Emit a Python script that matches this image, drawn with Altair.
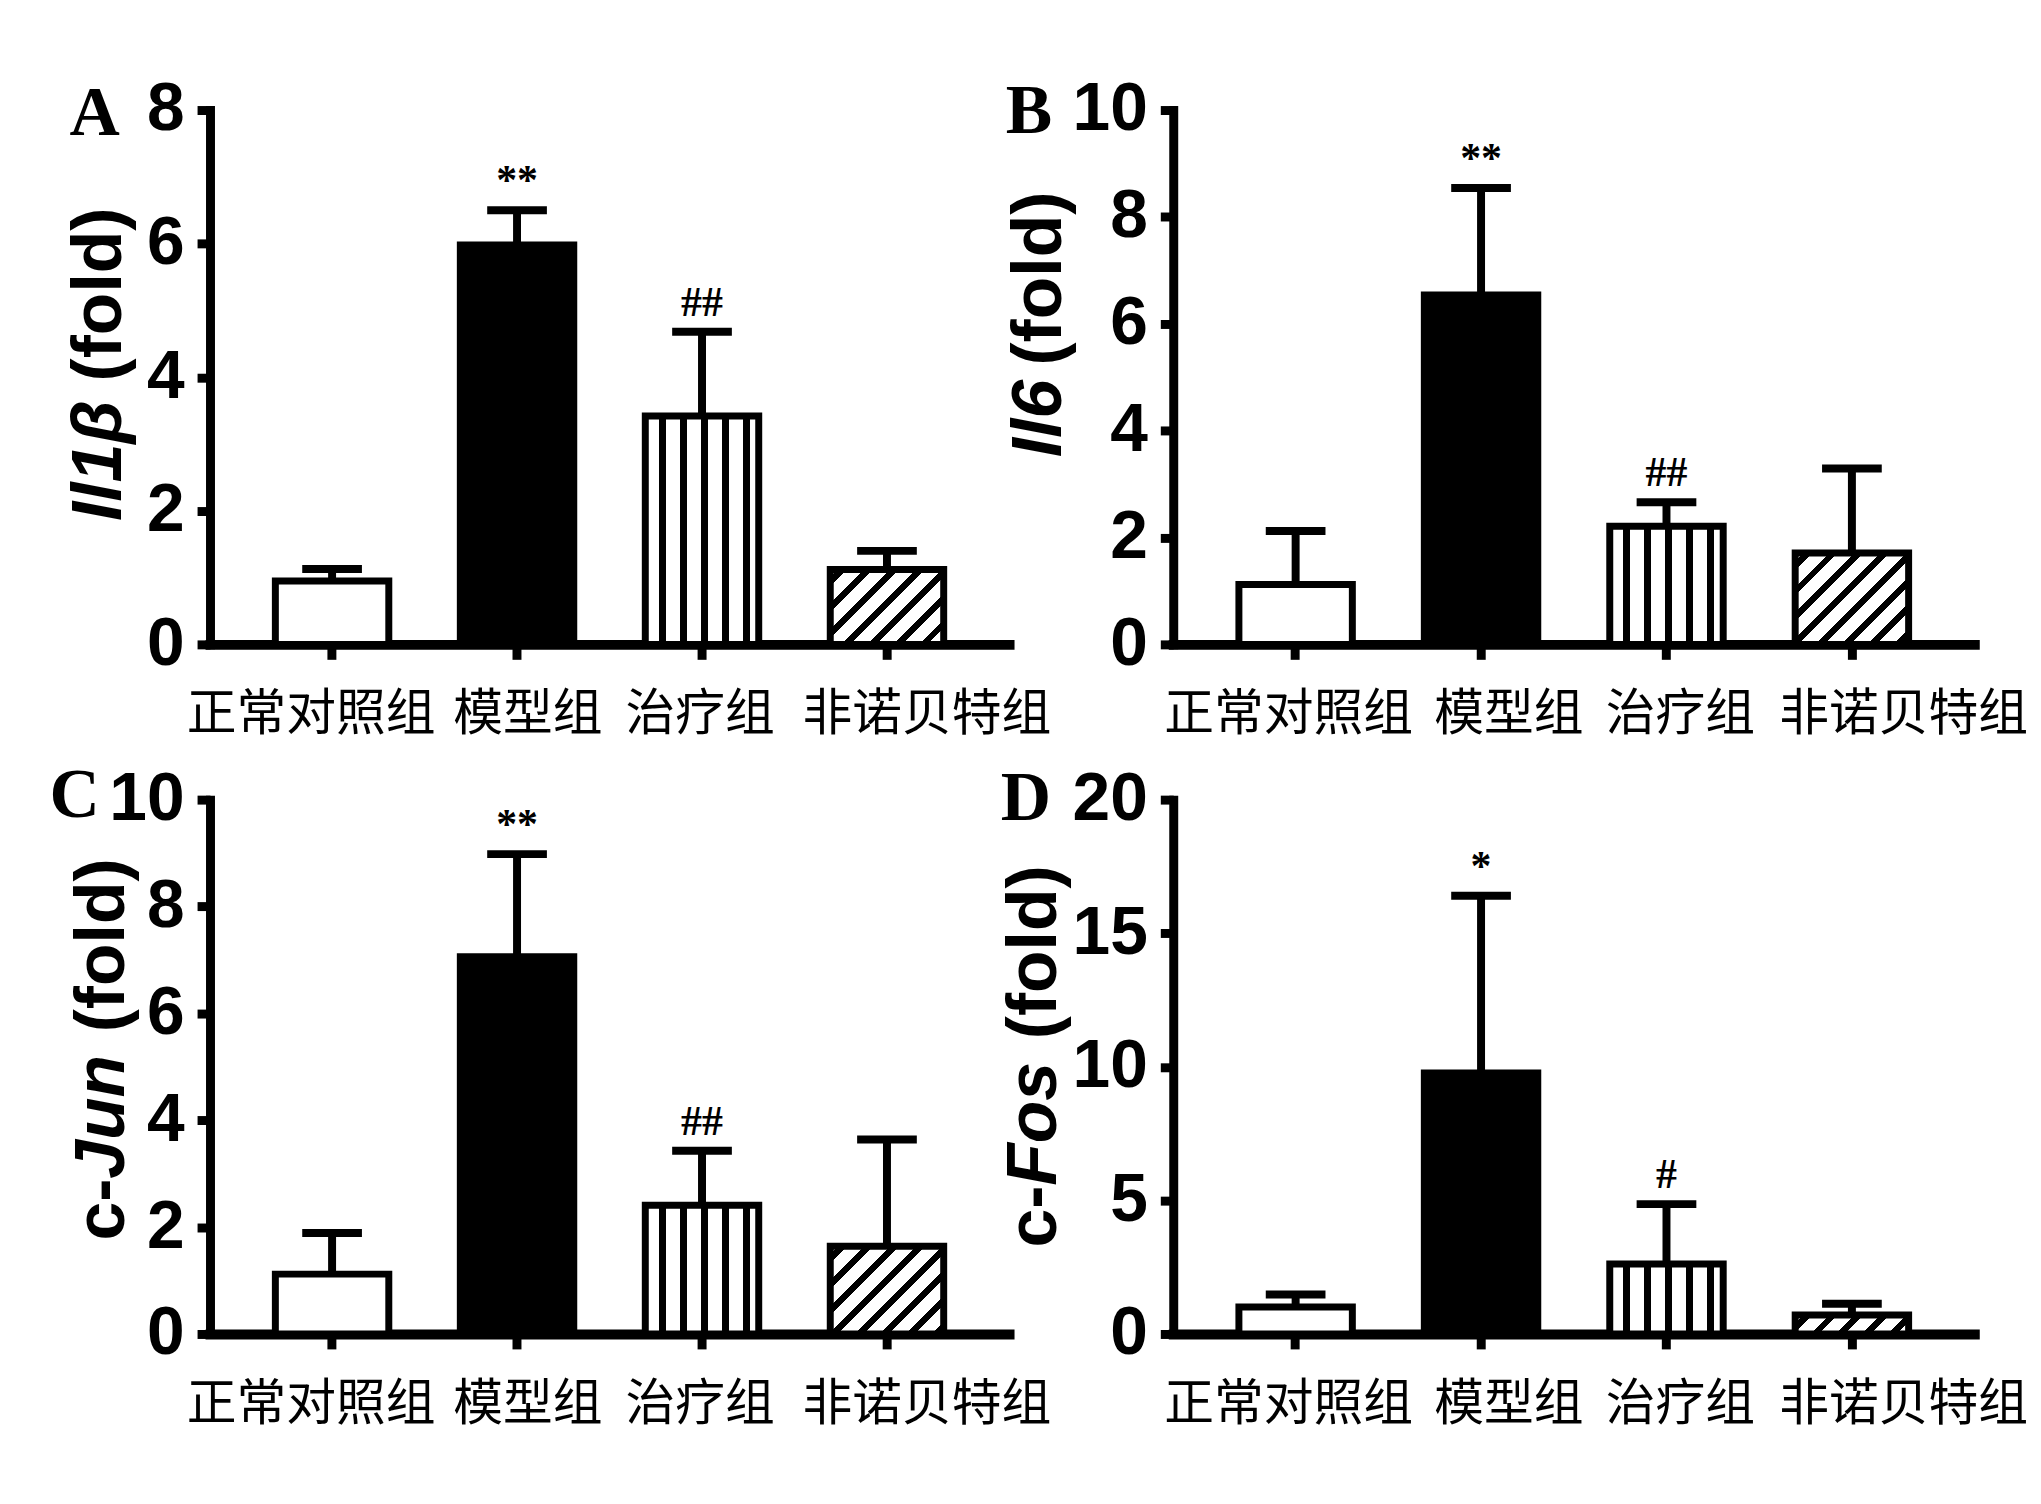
import altair as alt
import pandas as pd

# ---------------- data ----------------
groups = ["正常对照组", "模型组", "治疗组", "非诺贝特组"]

il1b_mean = [0.95, 5.98, 3.42, 1.12]
il1b_upper = [1.13, 6.50, 4.68, 1.40]
il6_mean = [1.12, 6.54, 2.21, 1.71]
il6_upper = [2.12, 8.54, 2.66, 3.29]
cjun_mean = [1.12, 7.06, 2.41, 1.64]
cjun_upper = [1.89, 8.98, 3.43, 3.64]
cfos_mean = [1.01, 9.77, 2.62, 0.71]
cfos_upper = [1.48, 16.4, 4.86, 1.13]

sig_double = ["", "**", "##", ""]
sig_single = ["", "*", "#", ""]

ticks_8 = [0, 2, 4, 6, 8]
ticks_10 = [0, 2, 4, 6, 8, 10]
ticks_20 = [0, 5, 10, 15, 20]

# ---------------- styling ----------------
H = 537
W_LEFT = 803
W_RIGHT = 805
BAR_W = 114
NUM_FONT = "Liberation Sans Narrow, Liberation Sans, Arial"
TITLE_FONT = "Liberation Sans, Arial"
CJK_FONT = "Noto Sans CJK SC"
SERIF = "Liberation Serif, Times New Roman"


def stripes():
    stops = [{"offset": 0, "color": "white"}]
    for c in [0.15, 0.335, 0.52, 0.705, 0.89]:
        a, b = round(c - 0.03, 4), round(c + 0.03, 4)
        stops += [{"offset": a, "color": "white"}, {"offset": a, "color": "black"},
                  {"offset": b, "color": "black"}, {"offset": b, "color": "white"}]
    stops.append({"offset": 1, "color": "white"})
    return {"gradient": "linear", "x1": 0, "y1": 0, "x2": 1, "y2": 0, "stops": stops}


def hatch(h, w=BAR_W, period=26.0, line=9.0, phase=8.0):
    L = w + h
    stops = [{"offset": 0, "color": "white"}]
    s = phase
    while s < L:
        a = round(s / L, 4)
        b = round(min((s + line) / L, 1.0), 4)
        stops += [{"offset": a, "color": "white"}, {"offset": a, "color": "black"},
                  {"offset": b, "color": "black"}, {"offset": b, "color": "white"}]
        s += period
    stops.append({"offset": 1, "color": "white"})
    d = w * w + h * h
    return {"gradient": "linear", "x1": 0, "y1": 0,
            "x2": round(w * L / d, 5), "y2": round(h * L / d, 5), "stops": stops}


def panel(mean, upper, sig, ymax, yticks, letter, letter_pos, title_parts,
          title_x, label_offsets, width):
    df = pd.DataFrame({"group": groups, "mean": mean, "upper": upper, "sig": sig})
    base = alt.Chart(df)

    off_expr = (
        f"datum.value === '{groups[0]}' ? {label_offsets[0]} : "
        f"datum.value === '{groups[1]}' ? {label_offsets[1]} : "
        f"datum.value === '{groups[2]}' ? {label_offsets[2]} : {label_offsets[3]}"
    )

    x = alt.X(
        "group:N", sort=groups, title=None,
        scale=alt.Scale(paddingInner=0.3, paddingOuter=0.31),
        axis=alt.Axis(
            labelAngle=0, labelFont=CJK_FONT, labelFontSize=50,
            labelFontWeight="normal", labelColor="black", labelLimit=0,
            labelPadding=31, labelOverlap=False, labelBound=False,
            labelOffset=alt.ExprRef(off_expr),
            tickSize=15, tickWidth=9, tickColor="black",
            domainWidth=10, domainColor="black", domainCap="square",
            grid=False,
        ),
    )
    y = alt.Y(
        "mean:Q", title=None,
        scale=alt.Scale(domain=[0, ymax], nice=False),
        axis=alt.Axis(
            values=yticks, format="d", labelFont=NUM_FONT, labelFontSize=68,
            labelFontWeight="bold", labelColor="black", labelPadding=13,
            tickSize=13, tickWidth=9, tickColor="black",
            domainWidth=9, domainColor="black", domainCap="square",
            grid=False,
        ),
    )

    stem = base.mark_rule(color="black", strokeWidth=8).encode(
        x=x, y=y, y2="upper:Q")
    cap = base.mark_tick(color="black", thickness=8, size=60, opacity=1).encode(
        x=x, y="upper:Q")

    bar_style = dict(size=BAR_W, stroke="black", strokeWidth=7, opacity=1)
    bar_plain = base.transform_filter(
        alt.FieldOneOfPredicate(field="group", oneOf=groups[:2])
    ).mark_bar(**bar_style).encode(
        x=x, y=y,
        fill=alt.Fill("group:N", scale=alt.Scale(domain=groups[:2], range=["white", "black"]),
                      legend=None),
    )
    bar_stripe = base.transform_filter(
        alt.datum.group == groups[2]
    ).mark_bar(**bar_style).encode(x=x, y=y, fill=alt.value(stripes()))

    fei_h = mean[3] / ymax * H
    bar_hatch = base.transform_filter(
        alt.datum.group == groups[3]
    ).mark_bar(**bar_style).encode(x=x, y=y, fill=alt.value(hatch(fei_h)))

    sig_text = base.mark_text(
        font=SERIF, fontSize=42, fontWeight="bold", color="black",
        baseline="alphabetic", dy=-16,
    ).encode(x=x, y="upper:Q", text="sig:N")

    one = alt.Chart(alt.Data(values=[{"k": 1}]))
    layers = [stem, cap, bar_plain, bar_stripe, bar_hatch, sig_text]

    lx, ly = letter_pos
    layers.append(one.mark_text(
        text=letter, font=SERIF, fontSize=70, fontWeight="bold", color="black",
        align="center", baseline="alphabetic",
    ).encode(x=alt.value(lx), y=alt.value(ly)))

    for txt, italic, align, ty in title_parts:
        layers.append(one.mark_text(
            text=txt, font=TITLE_FONT, fontSize=70, fontWeight="bold",
            fontStyle="italic" if italic else "normal", color="black",
            angle=270, align=align, baseline="middle",
        ).encode(x=alt.value(title_x), y=alt.value(ty)))

    return alt.layer(*layers).properties(width=width, height=H)


left_off = [-21, 11, -2, 40]
right_off = [-7, 28, 14, 52]

pA = panel(il1b_mean, il1b_upper, sig_double, 8, ticks_8, "A", (-116, 25),
           [("(fold)", False, "right", 98), ("Il1β", True, "left", 413)],
           -110, left_off, W_LEFT)
pB = panel(il6_mean, il6_upper, sig_double, 10, ticks_10, "B", (-145, 23),
           [("(fold)", False, "right", 82), ("Il6", True, "left", 349)],
           -134, right_off, W_RIGHT)
pC = panel(cjun_mean, cjun_upper, sig_double, 10, ticks_10, "C", (-136, 17),
           [("(fold)", False, "right", 59), ("c-", False, "left", 443),
            ("Jun", True, "left", 381)],
           -107, left_off, W_LEFT)
pD = panel(cfos_mean, cfos_upper, sig_single, 20, ticks_20, "D", (-148, 20),
           [("(fold)", False, "right", 66), ("c-", False, "left", 450),
            ("Fos", True, "left", 388)],
           -139, right_off, W_RIGHT)

chart = alt.concat(
    pA, pB, pC, pD, columns=2,
    spacing=alt.RowColnumber(row=156, column=165), bounds="flush",
).properties(
    padding={"left": 41, "top": 65, "right": 5, "bottom": 5},
    background="white",
).configure_view(stroke=None)

chart.save("out.html", embed_options={"renderer": "svg", "actions": False})
